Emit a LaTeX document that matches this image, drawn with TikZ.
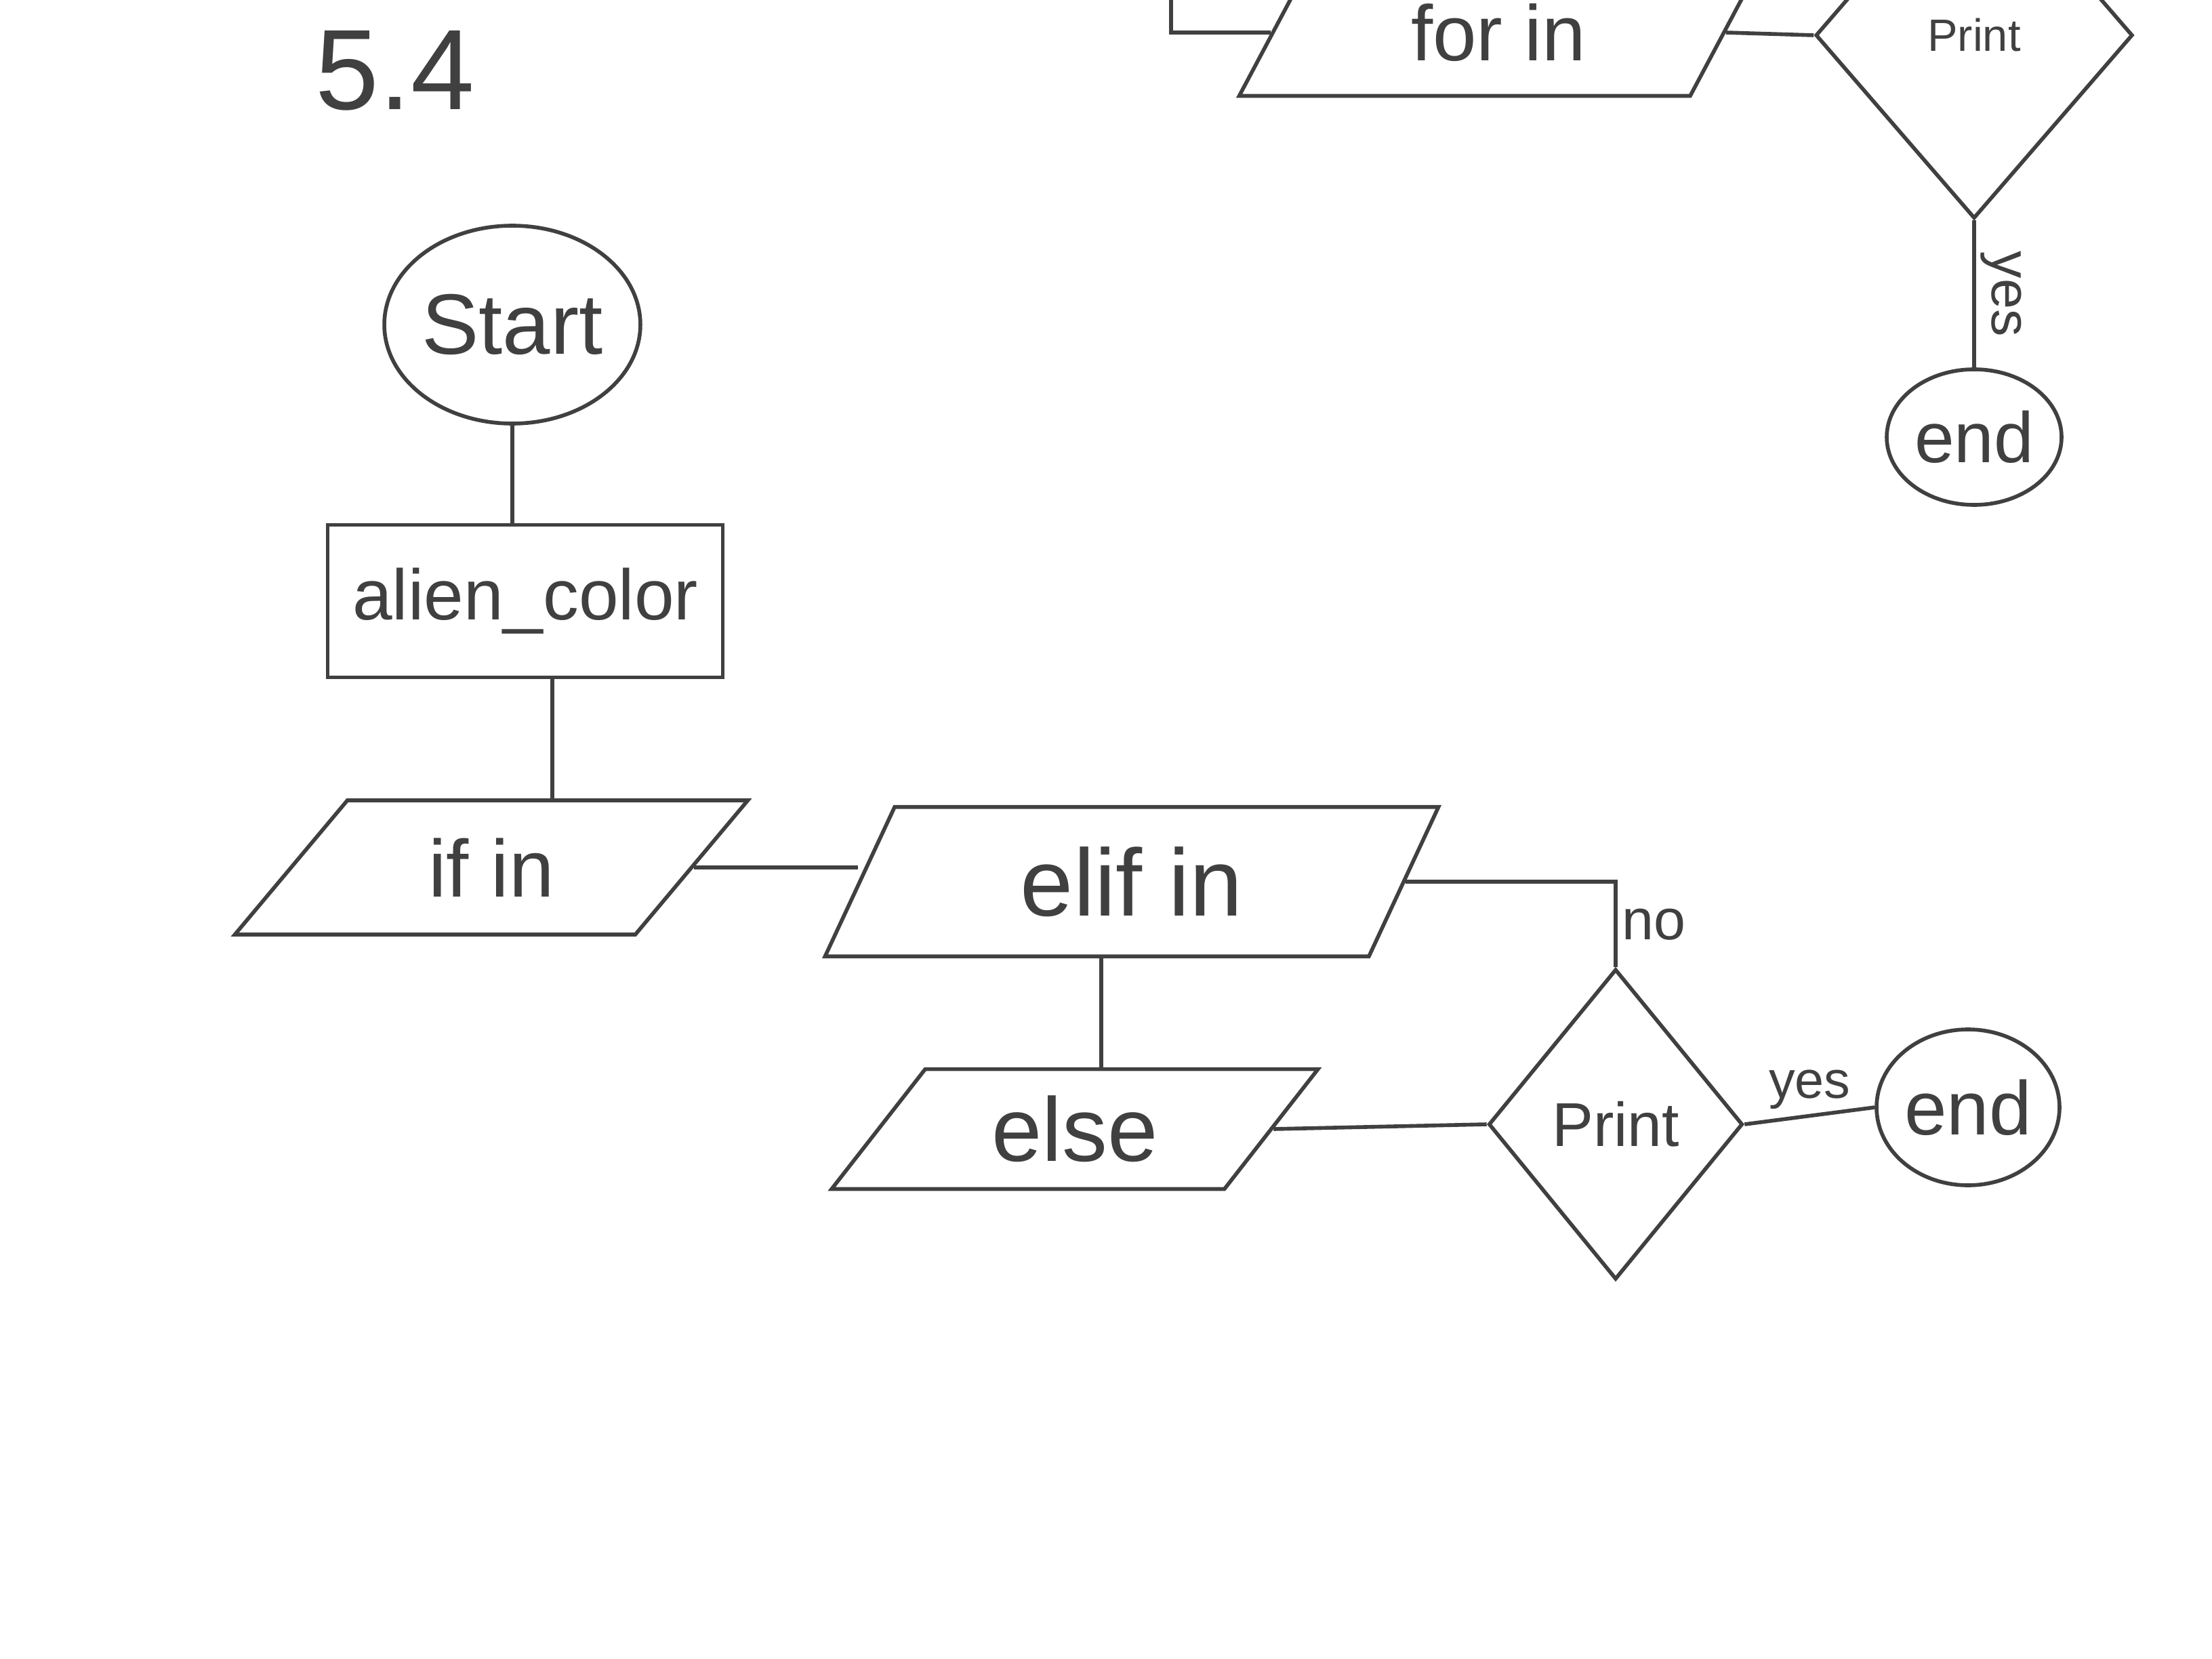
\documentclass[tikz,border=0pt]{standalone}
\usepackage{fontspec}
\setmainfont{Liberation Sans}
\usetikzlibrary{arrows.meta,positioning,shapes.geometric,calc}

\begin{document}
\begin{tikzpicture}[line width=1.6pt, color=black!75,
  hand/.style={font=\fontsize{#1}{#1}\selectfont},
  term/.style={draw, ellipse, inner sep=0pt},
  iobox/.style={draw, trapezium, inner sep=0pt},
  decide/.style={draw, diamond, inner sep=0pt},
  lbl/.style={inner sep=2pt}]
  \useasboundingbox (0,0) rectangle (32.64,-24.48);
  \fill[white] (0,0) rectangle (32.64,-24.48);
  \clip (0,0) rectangle (32.64,-24.48);

  \node (num) [hand=48] at (5.83,-1.04) {5.4};
  \node (start) [term, hand=36, minimum width=3.54cm, minimum height=2.92cm] at (7.56,-4.79) {Start};
  \node (alien) [draw, hand=30, inner sep=0pt, minimum width=5.83cm, minimum height=2.25cm] at (7.75,-8.87) {alien\_color};
  \node (ifin) [iobox, trapezium left angle=50, trapezium right angle=130, hand=34, minimum width=6.4cm, minimum height=1.98cm] at (7.25,-12.80) {if in};
  \node (elif) [iobox, trapezium left angle=65, trapezium right angle=115, hand=40, minimum width=9.06cm, minimum height=1.98cm] at (16.70,-13.01) {elif in};
  \node (else) [iobox, trapezium left angle=52, trapezium right angle=128, hand=38, minimum width=7.18cm, minimum height=1.73cm] at (15.86,-16.66) {else};
  \node (prtB) [decide, hand=26, minimum width=3.75cm, minimum height=4.58cm] at (23.84,-16.59) {Print};
  \node (endB) [term, hand=32, minimum width=2.7cm, minimum height=2.3cm] at (29.04,-16.34) {end};

  % top right, cut by the page edge
  \coordinate (fromtop) at (17.28,0.5);
  \node (forin) [iobox, trapezium left angle=62, trapezium right angle=118, hand=33, minimum width=5.1cm, minimum height=1.87cm] at (22.11,-0.48) {for in};
  \node (prtA) [decide, hand=19, minimum width=4.68cm, minimum height=5.41cm] at (29.13,-0.52) {Print};
  \node (endA) [term, hand=30, minimum width=2.58cm, minimum height=2.0cm] at (29.13,-6.45) {end};

  \draw (start.south) -- (start.south |- alien.north);
  \draw ([xshift=4mm]alien.south) -- ([xshift=4mm]alien.south |- ifin.north);
  \draw (ifin.east) -- (ifin.east -| elif.west);
  \draw (elif.east) -| node[lbl, hand=24, pos=0.75, right] {no} (prtB.north);
  \draw ([xshift=-4.5mm]elif.south) -- ([xshift=-4.5mm]elif.south |- else.north);
  \draw (else.east) -- (prtB.west);
  \draw (prtB.east) -- node[lbl, hand=22, above] {yes} (endB.west);
  \draw (fromtop) |- (forin.west);
  \draw (forin.east) -- (prtA.west);
  \draw (prtA.south) -- node[lbl, hand=23, midway, anchor=south, rotate=-90] {yes} (endA.north);
\end{tikzpicture}
\end{document}
